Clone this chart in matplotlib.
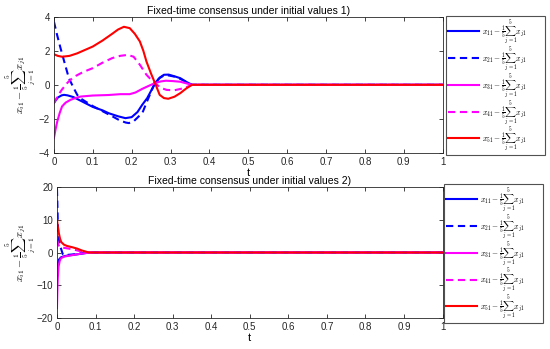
import matplotlib.pyplot as plt

plt.rcParams["font.family"] = ["Liberation Sans", "DejaVu Sans"]
plt.rcParams["mathtext.fontset"] = "cm"

# initial values 1)
t1_x11 = [0, 0.01, 0.02, 0.026, 0.035, 0.05, 0.07, 0.1, 0.125, 0.141, 0.165, 0.184, 0.2, 0.215, 0.227,
          0.24, 0.25, 0.26, 0.272, 0.283, 0.295, 0.31, 0.325, 0.34, 0.355, 1]
v1_x11 = [-1.06, -0.75, -0.62, -0.59, -0.62, -0.72, -0.95, -1.3, -1.5, -1.67, -1.85, -1.96, -1.9, -1.6,
          -1.18, -0.78, -0.35, 0.1, 0.42, 0.59, 0.6, 0.5, 0.39, 0.18, 0, 0]
t1_x21 = [0, 0.008, 0.017, 0.028, 0.0385, 0.05, 0.06, 0.07, 0.081, 0.1, 0.125, 0.15, 0.17, 0.185, 0.193,
          0.205, 0.218, 0.229, 0.24, 0.25, 0.26, 0.272, 0.283, 0.295, 0.31, 0.325, 0.34, 0.355, 1]
v1_x21 = [3.72, 2.95, 2.16, 1.25, 0.39, -0.15, -0.59, -0.82, -0.98, -1.25, -1.55, -1.85, -2.1, -2.22,
          -2.25, -2.15, -1.86, -1.57, -0.95, -0.4, 0.1, 0.4, 0.55, 0.55, 0.48, 0.35, 0.17, 0, 0]
t1_x31 = [0, 0.004, 0.0086, 0.015, 0.021, 0.03, 0.043, 0.055, 0.069, 0.1, 0.14, 0.171, 0.195, 0.21, 0.227,
          0.245, 0.26, 0.275, 0.288, 0.305, 0.325, 0.34, 0.355, 1]
v1_x31 = [-3.14, -2.65, -2.16, -1.65, -1.27, -1.05, -0.88, -0.78, -0.69, -0.63, -0.6, -0.55, -0.55, -0.45,
          -0.24, -0.05, 0.1, 0.2, 0.24, 0.22, 0.18, 0.09, 0, 0]
t1_x41 = [0, 0.01, 0.02, 0.034, 0.05, 0.075, 0.1, 0.125, 0.15, 0.17, 0.19, 0.205, 0.221, 0.238, 0.25,
          0.26, 0.275, 0.29, 0.31, 0.33, 0.345, 0.355, 1]
v1_x41 = [-1.1, -0.65, -0.3, 0.1, 0.45, 0.75, 0.98, 1.3, 1.57, 1.7, 1.76, 1.65, 1.18, 0.59, 0.3,
          0.1, -0.18, -0.3, -0.32, -0.22, -0.1, 0, 0]
t1_x51 = [0, 0.01, 0.021, 0.04, 0.06, 0.08, 0.1, 0.125, 0.15, 0.165, 0.18, 0.195, 0.208, 0.221, 0.23,
          0.238, 0.25, 0.26, 0.272, 0.283, 0.294, 0.31, 0.325, 0.34, 0.355, 1]
v1_x51 = [1.8, 1.7, 1.65, 1.7, 1.85, 2.05, 2.25, 2.6, 3.0, 3.25, 3.41, 3.33, 3.0, 2.55, 2.0,
          1.37, 0.65, 0.1, -0.59, -0.78, -0.82, -0.7, -0.49, -0.22, 0, 0]

# initial values 2)
t2_x11 = [0, 0.002, 0.005, 0.01, 0.02, 0.03, 0.05, 0.07, 0.085, 1]
v2_x11 = [-5, -3.2, -2.2, -1.5, -1.1, -0.9, -0.6, -0.25, 0, 0]
t2_x21 = [0, 0.001, 0.002, 0.003, 0.005, 0.008, 0.011, 0.015, 0.02, 0.04, 0.06, 0.08, 1]
v2_x21 = [19.5, 15, 10, 6.5, 3.9, 2.0, 1.0, -0.5, -0.8, -0.6, -0.3, 0, 0]
t2_x31 = [0, 0.001, 0.002, 0.004, 0.007, 0.01, 0.017, 0.03, 0.04, 0.06, 0.085, 1]
v2_x31 = [-17, -12, -8, -4.4, -2.6, -1.8, -1.3, -1.0, -0.8, -0.4, 0, 0]
t2_x41 = [0, 0.003, 0.006, 0.01, 0.02, 0.04, 0.06, 0.08, 1]
v2_x41 = [4, 2.5, 1.8, 1.5, 1.4, 1.0, 0.4, 0, 0]
t2_x51 = [0, 0.002, 0.005, 0.008, 0.011, 0.018, 0.026, 0.04, 0.052, 0.065, 0.083, 1]
v2_x51 = [10.3, 8, 5.8, 4.2, 3.2, 2.4, 2.0, 1.6, 1.2, 0.6, 0, 0]

labels = [r"$x_{%d1}-\frac{1}{5}\sum_{j=1}^{5}x_{j1}$" % i for i in range(1, 6)]
blue, magenta, red = (0, 0, 1), (1, 0, 1), (1, 0, 0)
dash = (0, (3.5, 2.2))
styles = [(blue, "-"), (blue, dash), (magenta, "-"), (magenta, dash), (red, "-")]
ylab = r"$x_{i1}-\frac{1}{5}\sum_{j=1}^{5}x_{j1}$"

fig = plt.figure(figsize=(5.5, 3.49), dpi=100)
ax1 = fig.add_axes([0.098, 0.562, 0.707, 0.390])
ax2 = fig.add_axes([0.1036, 0.089, 0.701, 0.375])

panels = [
    (ax1, [(t1_x11, v1_x11), (t1_x21, v1_x21), (t1_x31, v1_x31), (t1_x41, v1_x41), (t1_x51, v1_x51)],
     (-4, 4), [-4, -2, 0, 2, 4], "Fixed-time consensus under initial values 1)",
     (0.811, 0.564, 0.18, 0.39), -0.044),
    (ax2, [(t2_x11, v2_x11), (t2_x21, v2_x21), (t2_x31, v2_x31), (t2_x41, v2_x41), (t2_x51, v2_x51)],
     (-20, 20), [-20, -10, 0, 10, 20], "Fixed-time consensus under initial values 2)",
     (0.807, 0.086, 0.18, 0.387), -0.052),
]

for ax, series, ylim, yticks, title, lpos, ylx in panels:
    for (t, v), (c, ls), lab in zip(series, styles, labels):
        ax.plot(t, v, color=c, ls=ls, lw=1.5, label=lab)
    ax.set_xlim(0, 1)
    ax.set_ylim(*ylim)
    ax.set_xticks([i / 10 for i in range(11)])
    ax.set_xticklabels(["0"] + ["%.1f" % (i / 10) for i in range(1, 10)] + ["1"])
    ax.set_yticks(yticks)
    ax.tick_params(direction="in", top=True, right=True, labelsize=7, length=3,
                   colors="#262626", width=0.6, pad=3)
    for s in ax.spines.values():
        s.set_color("#262626")
        s.set_linewidth(0.6)
    ax.set_title(title, fontsize=7.5, pad=2)
    ax.set_xlabel("t", fontsize=8, labelpad=1)
    ax.set_ylabel(ylab, fontsize=7.5)
    ax.yaxis.set_label_coords(ylx, 0.5)
    leg = ax.legend(loc="upper left", bbox_to_anchor=lpos, bbox_transform=fig.transFigure,
                    mode="expand", fontsize=5.6, handlelength=4.0, handletextpad=0.3,
                    labelspacing=0.0, borderaxespad=0, fancybox=False, borderpad=0.3)
    leg.get_frame().set_edgecolor("#262626")
    leg.get_frame().set_linewidth(0.8)

fig.savefig("out.png", dpi=100)
